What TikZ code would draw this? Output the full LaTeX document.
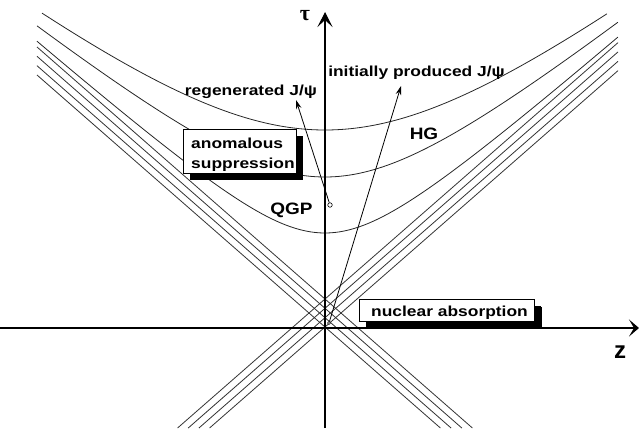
\documentclass[tikz,border=0pt]{standalone}
\usepackage{fontspec}
\setmainfont{Liberation Sans}
\newfontfamily\serifgreek{Liberation Serif}
\usetikzlibrary{arrows.meta,shadows}
\newcommand\stretchtxt[1]{\scalebox{1.2}[1]{#1}}
\begin{document}
\begin{tikzpicture}[x=1pt,y=-1pt,
  curve/.style={line width=0.8pt, black!85},
  cone/.style={line width=0.8pt, black!80},
  axis/.style={line width=1.1pt},
  lbl/.style={font=\fontsize{14.5}{17}\selectfont\bfseries, inner sep=0pt, anchor=base},
  big/.style={font=\fontsize{16.5}{19}\selectfont\bfseries, inner sep=0pt, anchor=base},
  shadowbox/.style={draw, line width=0.8pt, fill=white, inner sep=0pt,
    drop shadow={fill=black, opacity=1, shadow xshift=7pt, shadow yshift=-7pt}},
  jarrow/.style={line width=0.8pt, -{Stealth[length=9pt,width=5.5pt]}},
  dot/.style={circle, draw, inner sep=0pt, line width=0.6pt, fill=white}
]
\useasboundingbox (0,0) rectangle (639,436);
% light-cone bundles
\foreach \c in {299,308.3,317.7,327}{
  \draw[cone] ({325-(428-\c)/0.875},428) -- (618,{\c-0.875*293});
  \draw[cone] (37,{\c-0.875*288}) -- ({325+(428-\c)/0.875},428);
}
% proper-time hyperbolas
\draw[curve] plot[domain=-2.83:2.82, samples=120] ({325+100*\x},{280-100*sqrt(2.25+0.6084*\x*\x)});
\draw[curve] plot[domain=-2.88:2.93, samples=120] ({325+100*\x},{277-100*sqrt(1+0.64*\x*\x)});
\draw[curve] plot[domain=-2.88:2.93, samples=120] ({325+100*\x},{302.7-100*sqrt(0.4858+0.7656*\x*\x)});
% axes
\coordinate (tauBot) at (325,428);
\coordinate (tauTop) at (325,12);
\draw[axis, -{Stealth[length=15pt,width=15pt,inset=7pt]}] (tauBot) -- (tauTop);
\coordinate (zL) at (0,328);
\coordinate (zR) at (639,328);
\draw[axis, -{Stealth[length=10pt,width=17pt,inset=5pt]}] (zL) -- (zR);
\node[inner sep=0pt] (tau) at (305,16) {\serifgreek\bfseries\fontsize{22}{22}\selectfont τ};
\node[inner sep=0pt] (z) at (620,352) {\fontsize{24}{24}\selectfont\bfseries z};
% boxes
\node[shadowbox, minimum width=113pt, minimum height=44pt] (anom) at (239.5,151) {};
\node[lbl, anchor=base west] (anomA) at (191,148) {\stretchtxt{anomalous}};
\node[lbl, anchor=base west] (anomB) at (191,168) {\stretchtxt{suppression}};
\node[shadowbox, minimum width=175pt, minimum height=22pt, drop shadow={fill=black, opacity=1, shadow xshift=8pt, shadow yshift=-8pt}] (nucl) at (446.5,310) {};
\node[lbl, anchor=base west] (nuclT) at (371,316) {\stretchtxt{nuclear absorption}};
% region labels
\node[big] (hg) at (424,139) {\scalebox{1.15}[1]{HG}};
\node[big] (qgp) at (291.5,214) {\scalebox{1.15}[1]{QGP}};
% J/psi trajectories
\node[dot, minimum size=4.5pt] (regen) at (330,205) {};
\coordinate (regenTip) at (296,100);
\draw[jarrow] (regen) -- (regenTip);
\node[dot, minimum size=3pt] (init) at (329,323) {};
\coordinate (initTip) at (401,86);
\draw[jarrow] (init) -- (initTip);
\node[lbl] (regenL) at (251,95) {\stretchtxt{regenerated J/ψ}};
\node[lbl] (initL) at (416.5,77) {\stretchtxt{initially produced J/ψ}};
\end{tikzpicture}
\end{document}
